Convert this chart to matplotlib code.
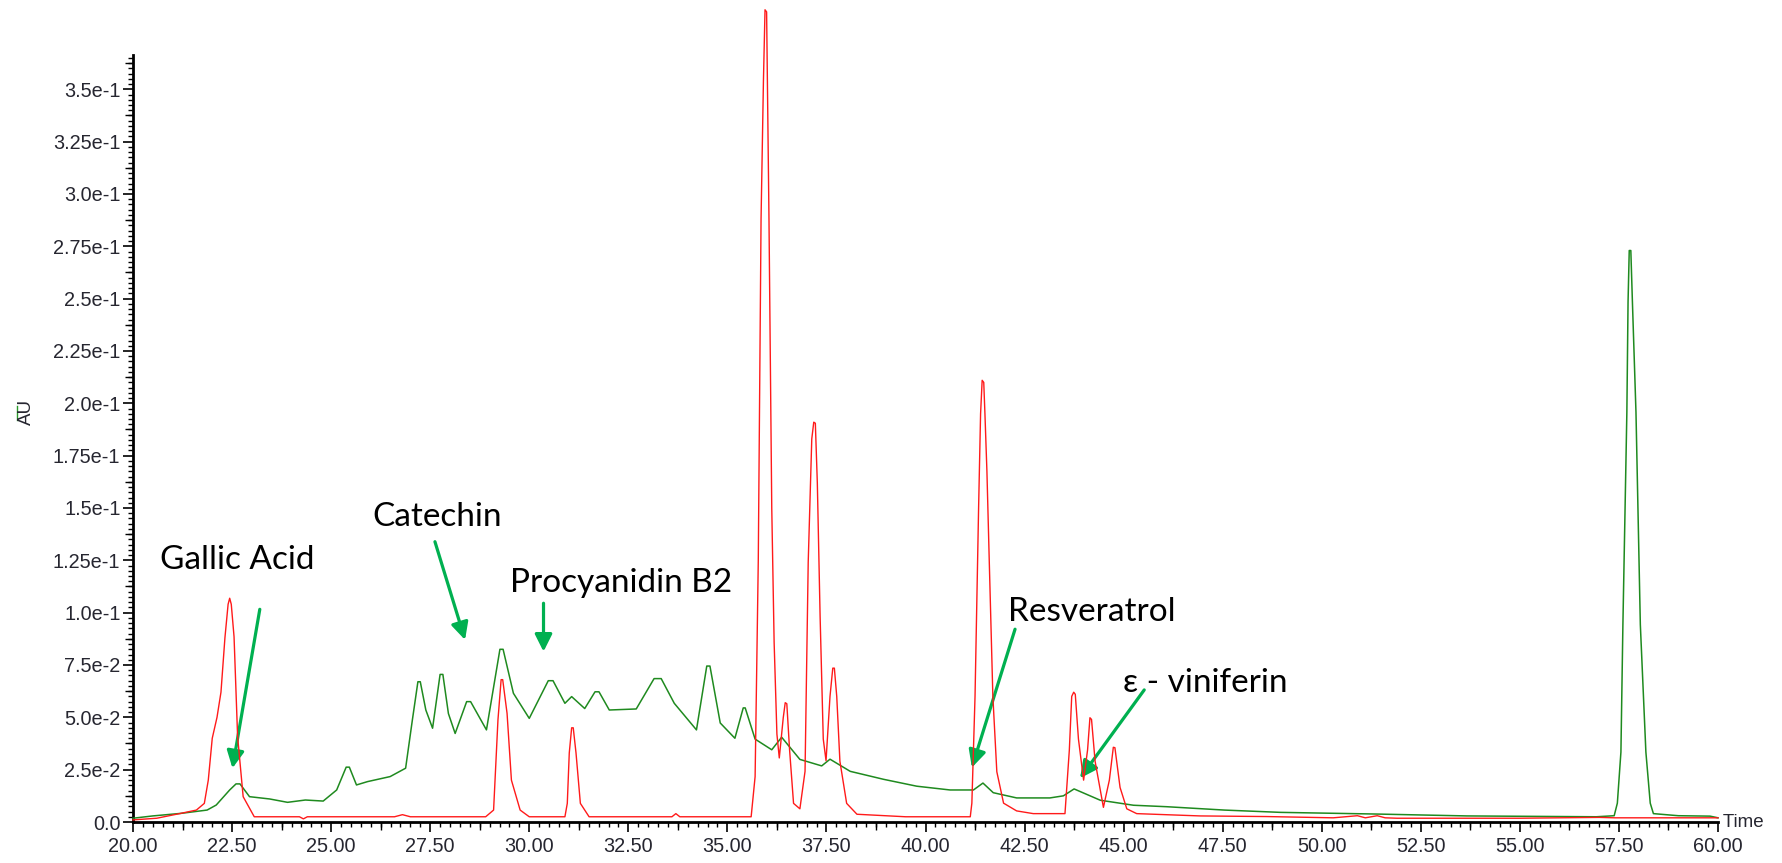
import numpy as np
import matplotlib
matplotlib.use("Agg")
import matplotlib.pyplot as plt
from matplotlib.ticker import FixedLocator, NullLocator

# ---------------- data ----------------
red_time = [20.00, 20.60, 21.20, 21.60, 21.80, 21.90, 22.00, 22.12, 22.22, 22.32, 22.40, 22.44, 22.48,
            22.55, 22.64, 22.78, 23.06, 24.20, 24.30, 24.40, 26.60, 26.80, 27.00, 28.90, 29.10,
            29.21, 29.29, 29.33, 29.44, 29.55, 29.77, 30.00, 30.90, 30.96, 31.01, 31.07, 31.11,
            31.18, 31.29, 31.51, 33.60, 33.70, 33.80, 35.60, 35.70, 35.74, 35.78, 35.85, 35.91,
            35.95, 35.99, 36.05, 36.12, 36.18, 36.25, 36.31, 36.41, 36.46, 36.50, 36.57, 36.67,
            36.83, 36.96, 37.04, 37.13, 37.18, 37.22, 37.27, 37.34, 37.42, 37.49, 37.59, 37.66,
            37.70, 37.76, 37.84, 38.01, 38.27, 39.50, 41.13, 41.17, 41.25, 41.34, 41.39, 41.43,
            41.47, 41.50, 41.55, 41.61, 41.70, 41.80, 41.97, 42.30, 42.72, 43.52, 43.63, 43.69,
            43.74, 43.78, 43.86, 43.99, 44.09, 44.15, 44.19, 44.28, 44.49, 44.64, 44.74, 44.78,
            44.91, 45.08, 45.33, 46.93, 48.61, 50.29, 50.90, 51.10, 51.40, 51.60, 51.90, 55.00,
            57.00, 57.40, 60.00]
red_au = [0.0010, 0.0018, 0.0041, 0.0057, 0.0089, 0.0200, 0.0400, 0.0500, 0.0620, 0.0880, 0.1040, 0.1069, 0.1040,
          0.0885, 0.0408, 0.0121, 0.0025, 0.0025, 0.0015, 0.0025, 0.0025, 0.0035, 0.0025, 0.0025, 0.0057,
          0.0487, 0.0680, 0.0680, 0.0519, 0.0200, 0.0057, 0.0025, 0.0025, 0.0089, 0.0330, 0.0450, 0.0450,
          0.0330, 0.0089, 0.0025, 0.0025, 0.0040, 0.0025, 0.0025, 0.0217, 0.0729, 0.1250, 0.2880, 0.3540,
          0.3880, 0.3870, 0.2880, 0.1500, 0.0857, 0.0420, 0.0306, 0.0498, 0.0570, 0.0565, 0.0344, 0.0089,
          0.0063, 0.0242, 0.1240, 0.1830, 0.1910, 0.1905, 0.1620, 0.0984, 0.0396, 0.0293, 0.0600, 0.0735,
          0.0735, 0.0600, 0.0290, 0.0089, 0.0037, 0.0025, 0.0025, 0.0090, 0.0600, 0.1500, 0.1950, 0.2110,
          0.2100, 0.1950, 0.1675, 0.1240, 0.0600, 0.0240, 0.0090, 0.0053, 0.0040, 0.0040, 0.0344, 0.0600,
          0.0620, 0.0610, 0.0396, 0.0200, 0.0344, 0.0498, 0.0490, 0.0290, 0.0070, 0.0200, 0.0357, 0.0355,
          0.0165, 0.0063, 0.0040, 0.0029, 0.0026, 0.0020, 0.0030, 0.0020, 0.0030, 0.0020, 0.0018, 0.0018,
          0.0022, 0.0020, 0.0020]

green_time = [20.00, 20.50, 21.20, 21.87, 22.10, 22.44, 22.60, 22.70, 22.94, 23.45, 23.90, 24.35, 24.80,
              25.14, 25.38, 25.46, 25.64, 25.92, 26.49, 26.88, 27.05, 27.19, 27.25, 27.39, 27.56,
              27.75, 27.82, 27.96, 28.13, 28.42, 28.52, 28.92, 29.26, 29.34, 29.60, 30.00, 30.48,
              30.60, 30.90, 31.07, 31.40, 31.66, 31.76, 32.02, 32.70, 33.15, 33.33, 33.66, 34.22,
              34.48, 34.56, 34.82, 35.19, 35.40, 35.45, 35.70, 36.12, 36.37, 36.83, 37.38, 37.59,
              38.10, 38.94, 39.78, 40.62, 41.21, 41.45, 41.71, 42.30, 43.14, 43.48, 43.75, 44.41,
              45.25, 46.09, 47.54, 48.96, 51.38, 53.66, 56.93, 57.38, 57.46, 57.55, 57.60, 57.70,
              57.73, 57.76, 57.80, 57.84, 57.93, 58.04, 58.18, 58.29, 58.37, 59.00, 59.80, 60.00]
green_au = [0.0018, 0.0029, 0.0041, 0.0057, 0.0081, 0.0153, 0.0182, 0.0182, 0.0121, 0.0110, 0.0094, 0.0105, 0.0100,
            0.0153, 0.0262, 0.0262, 0.0177, 0.0193, 0.0217, 0.0257, 0.0487, 0.0670, 0.0670, 0.0535, 0.0448,
            0.0705, 0.0705, 0.0518, 0.0423, 0.0575, 0.0575, 0.0440, 0.0825, 0.0825, 0.0615, 0.0495, 0.0675,
            0.0675, 0.0567, 0.0599, 0.0542, 0.0622, 0.0622, 0.0535, 0.0540, 0.0685, 0.0685, 0.0567, 0.0440,
            0.0745, 0.0745, 0.0473, 0.0400, 0.0545, 0.0545, 0.0396, 0.0345, 0.0405, 0.0299, 0.0268, 0.0300,
            0.0242, 0.0204, 0.0171, 0.0153, 0.0153, 0.0186, 0.0140, 0.0115, 0.0115, 0.0125, 0.0158, 0.0104,
            0.0080, 0.0073, 0.0057, 0.0046, 0.0038, 0.0029, 0.0025, 0.0030, 0.0090, 0.0334, 0.0943, 0.1957,
            0.2485, 0.2730, 0.2730, 0.2485, 0.1957, 0.0943, 0.0334, 0.0090, 0.0040, 0.0030, 0.0028, 0.0020]

y_ticks = [0.0, 0.025, 0.05, 0.075, 0.1, 0.125, 0.15, 0.175, 0.2, 0.225, 0.25, 0.275, 0.3, 0.325, 0.35]
y_tick_labels = ["0.0", "2.5e-2", "5.0e-2", "7.5e-2", "1.0e-1", "1.25e-1", "1.5e-1", "1.75e-1",
                 "2.0e-1", "2.25e-1", "2.5e-1", "2.75e-1", "3.0e-1", "3.25e-1", "3.5e-1"]
x_ticks = [20.0, 22.5, 25.0, 27.5, 30.0, 32.5, 35.0, 37.5, 40.0, 42.5, 45.0, 47.5, 50.0, 52.5, 55.0, 57.5, 60.0]
x_tick_labels = ["%.2f" % v for v in x_ticks]

# annotations: label, text anchor (time, AU), arrow tail, arrow tip
ann_labels = ["Gallic Acid", "Catechin", "Procyanidin B2", "Resveratrol", "\u03b5 - viniferin"]
ann_text_pos = [(20.68, 0.1209), (26.04, 0.1414), (29.51, 0.1100), (42.08, 0.0958), (44.98, 0.0623)]
ann_tail = [(23.20, 0.1016), (27.62, 0.1339), (30.36, 0.1045), (42.26, 0.0921), (45.52, 0.0631)]
ann_tip = [(22.51, 0.0257), (28.38, 0.0870), (30.36, 0.0814), (41.17, 0.0260), (43.90, 0.0209)]
ann_target_px = [156, 128.6, 223, 168, 165.6]

# ---------------- figure ----------------
W, H = 1783, 863
fig = plt.figure(figsize=(W / 100, H / 100), dpi=100)
ax = fig.add_axes([133 / W, (H - 822) / H, 1585 / W, 767 / H])

RED = "#ff1a1a"
GREEN = "#1f8a1f"
ARROW = "#00b050"
TXT = "#262630"

ax.plot(green_time, green_au, color=GREEN, lw=1.1, clip_on=False, zorder=3)
ax.plot(red_time, red_au, color=RED, lw=1.0, clip_on=False, zorder=4)

ax.set_xlim(20, 60)
ax.set_ylim(0, 0.3664)

for s in ["top", "right"]:
    ax.spines[s].set_visible(False)
for s in ["left", "bottom"]:
    ax.spines[s].set_linewidth(2.0)
    ax.spines[s].set_color("black")

tickfont = dict(family="Liberation Sans", size=14.3)
ax.set_yticks(y_ticks)
ax.set_yticklabels(y_tick_labels, color=TXT, **tickfont)
ax.set_xticks(x_ticks)
ax.set_xticklabels(x_tick_labels, color=TXT, **tickfont)
ax.yaxis.set_minor_locator(FixedLocator(np.arange(0, 0.3665, 0.0025)))
ax.xaxis.set_minor_locator(FixedLocator(np.arange(20, 60.01, 0.25)))
ax.tick_params(axis="both", which="major", length=7.5, width=1.2, color="black")
ax.tick_params(axis="both", which="minor", length=3.3, width=1.0, color="black")
ax.tick_params(axis="y", which="major", pad=1.5)
ax.tick_params(axis="x", which="major", pad=3.5)

# medium ticks
sy = ax.secondary_yaxis("left")
sy.set_yticks(np.arange(0.0125, 0.3664, 0.025))
sy.yaxis.set_minor_locator(NullLocator())
sy.tick_params(length=5.5, width=1.0, labelleft=False, color="black")
sy.spines["left"].set_visible(False)
sx = ax.secondary_xaxis("bottom")
sx.set_xticks(np.arange(21.25, 60, 2.5))
sx.xaxis.set_minor_locator(NullLocator())
sx.tick_params(length=5.5, width=1.0, labelbottom=False, color="black")
sx.spines["bottom"].set_visible(False)

# axis labels
fig.text(26.5 / W, 1 - 412 / H, "AU", rotation=90, ha="center", va="center",
         color=TXT, family="Liberation Sans", size=13.5)
fig.add_artist(plt.Line2D([17 / W, 17 / W], [1 - 420 / H, 1 - 406 / H], color="#2a9a2a", lw=1.0))
ax.text(1.0, 0.0, " Time", transform=ax.transAxes, ha="left", va="center",
        color=TXT, family="Liberation Sans", size=13.5)

# annotations
texts = []
for lab, pos in zip(ann_labels, ann_text_pos):
    t = ax.text(pos[0], pos[1], lab, ha="left", va="baseline", color="black",
                family=["Lato", "Open Sans", "DejaVu Sans"], size=24)
    texts.append(t)
for tail, tip in zip(ann_tail, ann_tip):
    ax.annotate("", xy=tip, xytext=tail,
                arrowprops=dict(arrowstyle="-|>", color=ARROW, lw=2.3,
                                mutation_scale=26, shrinkA=0, shrinkB=0))

fig.canvas.draw()
r = fig.canvas.get_renderer()
ratios = [tw / t.get_window_extent(r).width for t, tw in zip(texts, ann_target_px)]
scale = float(np.mean(ratios))
for t in texts:
    t.set_fontsize(24 * scale)

fig.savefig("out.png", dpi=100)
